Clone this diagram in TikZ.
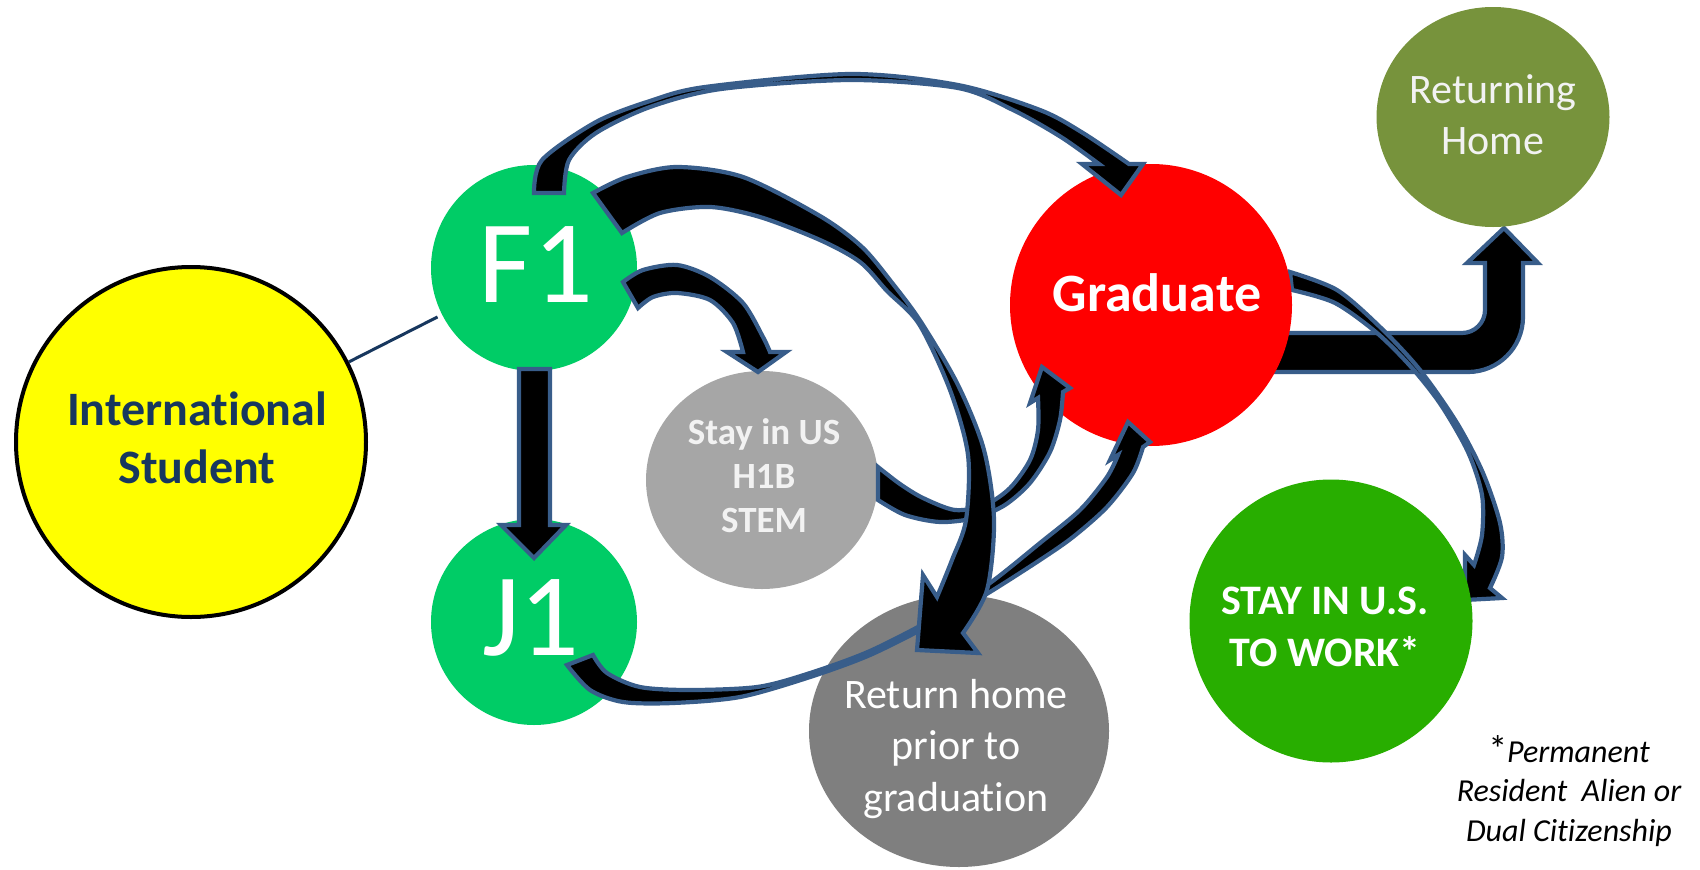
\documentclass[tikz,border=0pt]{standalone}
\usepackage{fontspec}
\setmainfont{Carlito}[Ligatures={NoCommon,NoContextual}]
\usetikzlibrary{shapes.geometric}
\definecolor{arrowblue}{RGB}{56,93,138}
\definecolor{isyellow}{RGB}{255,255,0}
\definecolor{isnavy}{RGB}{23,55,94}
\definecolor{visagreen}{RGB}{0,204,102}
\definecolor{gradred}{RGB}{255,0,0}
\definecolor{olive}{RGB}{119,147,60}
\definecolor{lightgrey}{RGB}{166,166,166}
\definecolor{midgrey}{RGB}{127,127,127}
\definecolor{workgreen}{RGB}{40,174,0}
\definecolor{paletext}{RGB}{242,242,242}
\begin{document}
\begin{tikzpicture}[x=1pt,y=-1pt,
  blockarrow/.style={fill=black, draw=arrowblue, line width=4.2pt, line join=miter, miter limit=6},
  bubble/.style={circle, inner sep=0pt, draw=none},
  oval/.style={ellipse, inner sep=0pt, draw=none},
  isline/.style={draw=isnavy, line width=3pt},
  lbl/.style={align=center, inner sep=0pt}]
\fill[white] (0,0) rectangle (1700,870);
\useasboundingbox (0,0) rectangle (1700,870);

% Graduate -> Returning Home (elbow arrow, behind Graduate)
\filldraw[blockarrow] (1230,333) -- (1462,333) arc[start angle=90, end angle=0, radius=23]
  -- (1485,263) -- (1467,263) -- (1504,228) -- (1538,263) -- (1523,263) -- (1523,317)
  arc[start angle=0, end angle=90, radius=55] -- (1230,372) -- cycle;

% Graduate -> Stay in U.S. to work
\filldraw[blockarrow] plot[smooth] coordinates {(1290,272) (1337,290) (1380,327) (1420,370) (1457,423) (1483,473) (1500,523) (1502,557) (1490,588)}
  -- (1502,598) -- (1465,600) -- (1465,555) -- (1474,565)
  -- plot[smooth] coordinates {(1474,565) (1482,535) (1482,495) (1468,452) (1441,405) (1412,368) (1377,333) (1335,303) (1292,290)} -- cycle;

% Nodes
\node[bubble, fill=isyellow, draw=black, line width=4pt, minimum size=350] (IS) at (191,442) {};
\node[bubble, fill=visagreen, minimum size=206] (F1) at (534,268) {};
\node[bubble, fill=visagreen, minimum size=206] (J1) at (534,622) {};
\node[bubble, fill=gradred, minimum size=282] (GR) at (1151,305) {};
\node[oval, fill=olive, minimum width=233, minimum height=220] (RH) at (1493,117) {};
\node[oval, fill=lightgrey, minimum width=232, minimum height=218] (SU) at (762,480) {};
\node[oval, fill=midgrey, minimum width=300, minimum height=272] (RP) at (959,731) {};
\node[bubble, fill=workgreen, minimum size=283] (SW) at (1331,621) {};

% Texts
\node[lbl, font=\fontsize{48}{58}\selectfont\bfseries, text=isnavy] (IStext) at (197,438) {International\\Student};
\node[lbl, font=\fontsize{118}{118}\selectfont, text=white] (F1text) at (536,265) {F1};
\node[lbl, font=\fontsize{118}{118}\selectfont, text=white] (J1text) at (531,618) {J1};
\node[lbl, font=\fontsize{54}{60}\selectfont\bfseries, text=white] (GRtext) at (1157,293) {Graduate};
\node[lbl, font=\fontsize{42}{51}\selectfont, text=paletext] (RHtext) at (1493,115) {Returning\\Home};
\node[lbl, font=\fontsize{37}{44}\selectfont\bfseries, text=paletext] (SUtext) at (764,476) {Stay in US\\H1B\\STEM};
\node[lbl, font=\fontsize{42}{51.5}\selectfont, text=white] (RPtext) at (956,749) {Return home\\prior to\\graduation};
\node[lbl, font=\fontsize{42}{52}\selectfont\bfseries, text=white] (SWtext) at (1325,627) {STAY IN U.S.\\TO WORK*};
\node[lbl, font=\fontsize{32}{39.5}\selectfont\itshape, text=black] (note) at (1569,791) {{\upshape\fontsize{38}{39.5}\selectfont*}Permanent\\Resident\ \ Alien or\\Dual Citizenship};

% International Student -- F1
\draw[isline, shorten >=5pt] (IS) -- (F1);

% F1 -> J1
\filldraw[blockarrow] (519,369) -- (550,369) -- (550,525) -- (566,525) -- (534,558) -- (501,525) -- (519,525) -- cycle;

% F1 -> Stay in US
\filldraw[blockarrow] plot[smooth] coordinates {(623,282) (643,270) (677,265) (710,277) (743,303) (763,337) (770,352)}
  -- (786,352) -- (758,372) -- (727,352) -- (743,352)
  -- plot[smooth] coordinates {(743,352) (733,323) (710,300) (677,293) (653,297) (638,308)} -- cycle;

% Stay in US -> Graduate
\filldraw[blockarrow] plot[smooth] coordinates {(878,500) (905,515) (940,522) (975,518) (1005,505) (1030,483) (1050,452) (1060,420) (1063,392)}
  -- (1070,388) -- (1042,367) -- (1030,403) -- (1038,398)
  -- plot[smooth] coordinates {(1038,398) (1038,430) (1030,460) (1010,488) (985,505) (955,510) (923,498) (900,484) (878,467)} -- cycle;

% J1 -> Graduate
\filldraw[blockarrow] plot[smooth] coordinates {(567,665) (590,690) (623,702) (673,703) (740,697) (807,678) (870,655) (940,620) (985,595) (1040,560) (1073,537) (1107,507) (1133,473) (1143,447)}
  -- (1150,442) -- (1128,422) -- (1110,460) -- (1118,455)
  -- plot[smooth] coordinates {(1118,455) (1107,477) (1080,510) (1040,543) (990,583) (940,615) (870,651) (807,674) (757,687) (690,690) (640,687) (607,673) (593,655)} -- cycle;

% F1 -> Return home prior to graduation
\filldraw[blockarrow] plot[smooth] coordinates {(593,193) (627,177) (677,167) (743,177) (820,216) (862,247) (893,284) (921,322) (958,385) (984,450) (994,520) (987,590) (963,633)}
  -- (978,653) -- (917,650) -- (923,575) -- (937,597)
  -- plot[smooth] coordinates {(937,597) (952,560) (966,520) (968,455) (950,390) (919,324) (887,291) (860,262) (820,240) (760,217) (710,207) (660,213) (622,233)} -- cycle;

% F1 -> Graduate (over the top)
\filldraw[blockarrow] plot[smooth] coordinates {(534,193) (542,160) (596,122) (650,101) (705,87) (850,74) (958,85) (1040,110) (1083,133) (1129,164)}
  -- (1143,164) -- (1121,195) -- (1082,164) -- (1099,164)
  -- plot[smooth] coordinates {(1099,164) (1061,137) (1013,110) (958,88) (850,80) (721,89) (650,107) (596,133) (569,160) (564,193)} -- cycle;
\end{tikzpicture}
\end{document}
